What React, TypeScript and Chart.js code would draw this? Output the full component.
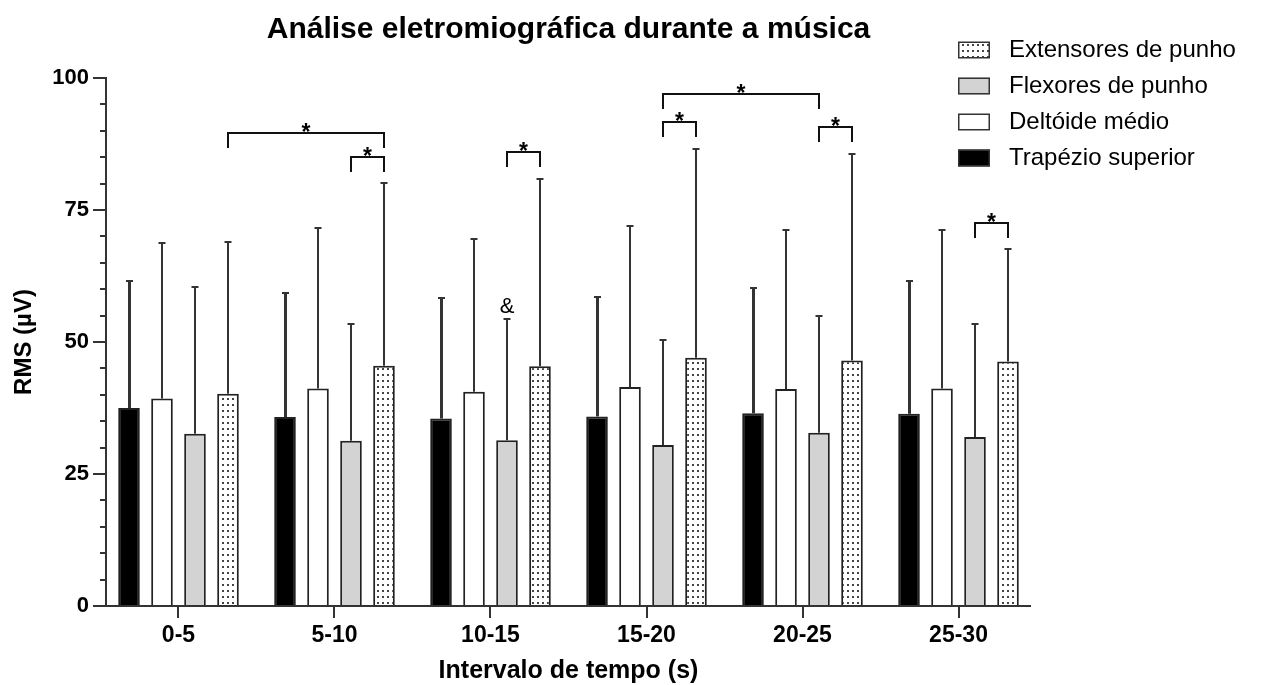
import React, { useEffect, useRef } from 'react';
import { Chart, registerables } from 'chart.js';

Chart.register(...registerables);

// ---------- data ----------
const categories = ['0-5', '5-10', '10-15', '15-20', '20-25', '25-30'];
const seriesNames = ['Trapézio superior', 'Deltóide médio', 'Flexores de punho', 'Extensores de punho'];

const trapezioMean = [37.5, 35.8, 35.5, 35.9, 36.5, 36.4];
const trapezioSD = [24.1, 23.5, 22.9, 22.7, 23.7, 25.1];
const deltoideMean = [39.3, 41.2, 40.6, 41.5, 41.1, 41.2];
const deltoideSD = [29.5, 30.4, 28.9, 30.5, 30.1, 30.0];
const flexoresMean = [32.6, 31.3, 31.4, 30.5, 32.8, 32.0];
const flexoresSD = [27.8, 22.1, 23.0, 19.9, 22.1, 21.4];
const extensoresMean = [40.2, 45.5, 45.4, 47.0, 46.5, 46.3];
const extensoresSD = [28.8, 34.7, 35.5, 39.6, 39.2, 21.3];

const yMajorTicks = [0, 25, 50, 75, 100];
const yMinorTicks = [5, 10, 15, 20, 30, 35, 40, 45, 55, 60, 65, 70, 80, 85, 90, 95];

// significance brackets: [category index, series index]
const bracketFrom = [[0, 3], [1, 2], [2, 2], [3, 2], [3, 2], [4, 2], [5, 2]];
const bracketTo = [[1, 3], [1, 3], [2, 3], [3, 3], [4, 2], [4, 3], [5, 3]];
const bracketLevel = [89.6, 85.1, 86.0, 91.7, 97.0, 90.8, 72.6];
const bracketLabel = ['*', '*', '*', '*', '*', '*', '*'];

const markCategory = [2];
const markSeries = [2];
const markValue = [55.5];
const markText = ['&'];

const FONT = "'Liberation Sans', Arial, Helvetica, sans-serif";

function makeDotPattern(): CanvasPattern | string {
  const c = document.createElement('canvas');
  c.width = 5;
  c.height = 6;
  const g = c.getContext('2d');
  if (!g) return '#fff';
  g.fillStyle = '#ffffff';
  g.fillRect(0, 0, 5, 6);
  g.fillStyle = '#444444';
  g.fillRect(2, 2, 2, 2);
  const p = g.createPattern(c, 'repeat');
  return p || '#fff';
}

const decorPlugin = {
  id: 'prismDecor',
  afterDatasetsDraw(chart: any) {
    const { ctx, chartArea, scales } = chart;
    const xs = scales.x;
    const ys = scales.y;
    const sds = [trapezioSD, deltoideSD, flexoresSD, extensoresSD];
    ctx.save();

    // error bars (upper only)
    sds.forEach((sd, di) => {
      const meta = chart.getDatasetMeta(di);
      const ds = chart.data.datasets[di].data;
      meta.data.forEach((bar: any, i: number) => {
        const v = ds[i].y;
        const y0 = ys.getPixelForValue(v);
        const y1 = ys.getPixelForValue(v + sd[i]);
        const lw = di === 0 ? 3 : 2;
        const bx = Math.round(bar.x) + (lw % 2 ? 0.5 : 0);
        ctx.strokeStyle = '#333';
        ctx.lineWidth = lw;
        ctx.beginPath();
        ctx.moveTo(bx, y0);
        ctx.lineTo(bx, y1);
        ctx.stroke();
        ctx.lineWidth = 2;
        ctx.beginPath();
        ctx.moveTo(bx - 3.5, Math.round(y1));
        ctx.lineTo(bx + 3.5, Math.round(y1));
        ctx.stroke();
      });
    });

    // axes
    ctx.strokeStyle = '#333';
    ctx.lineWidth = 2;
    const L = chartArea.left;
    const B = chartArea.bottom;
    ctx.beginPath();
    ctx.moveTo(L, chartArea.top - 1);
    ctx.lineTo(L, B);
    ctx.moveTo(L - 12, B);
    ctx.lineTo(chartArea.right, B);
    ctx.stroke();
    yMajorTicks.forEach((t) => {
      const py = Math.round(ys.getPixelForValue(t));
      ctx.beginPath();
      ctx.moveTo(L - 13, py);
      ctx.lineTo(L, py);
      ctx.stroke();
    });
    yMinorTicks.forEach((t) => {
      const py = Math.round(ys.getPixelForValue(t));
      ctx.beginPath();
      ctx.moveTo(L - 6, py);
      ctx.lineTo(L, py);
      ctx.stroke();
    });
    categories.forEach((_, i) => {
      const px = Math.round(xs.getPixelForValue(i));
      ctx.beginPath();
      ctx.moveTo(px, B);
      ctx.lineTo(px, B + 12);
      ctx.stroke();
    });

    // significance brackets
    bracketFrom.forEach((f, k) => {
      const t = bracketTo[k];
      const xa = Math.round(chart.getDatasetMeta(f[1]).data[f[0]].x);
      const xb = Math.round(chart.getDatasetMeta(t[1]).data[t[0]].x);
      const yl = Math.round(ys.getPixelForValue(bracketLevel[k]));
      ctx.strokeStyle = '#111';
      ctx.lineWidth = 2;
      ctx.beginPath();
      ctx.moveTo(xa, yl + 15);
      ctx.lineTo(xa, yl);
      ctx.lineTo(xb, yl);
      ctx.lineTo(xb, yl + 15);
      ctx.stroke();
      ctx.fillStyle = '#000';
      ctx.font = `bold 23px ${FONT}`;
      ctx.textAlign = 'center';
      ctx.textBaseline = 'alphabetic';
      ctx.fillText(bracketLabel[k], (xa + xb) / 2, yl - 7 + 13.5);
    });

    // other marks
    markText.forEach((txt, k) => {
      const bar = chart.getDatasetMeta(markSeries[k]).data[markCategory[k]];
      ctx.fillStyle = '#000';
      ctx.font = `22px ${FONT}`;
      ctx.textAlign = 'center';
      ctx.textBaseline = 'alphabetic';
      ctx.fillText(txt, bar.x, ys.getPixelForValue(markValue[k]));
    });

    // legend (reversed order)
    const lx = 958;
    const ly0 = 50;
    const step = 36;
    const order = [3, 2, 1, 0];
    order.forEach((di, r) => {
      const ds = chart.data.datasets[di];
      const cy = ly0 + r * step;
      ctx.fillStyle = ds.backgroundColor;
      ctx.fillRect(lx, cy - 8.5, 32, 17);
      ctx.strokeStyle = '#333';
      ctx.lineWidth = 1.5;
      ctx.strokeRect(lx + 0.75, cy - 8.5 + 0.75, 30.5, 15.5);
      ctx.fillStyle = '#000';
      ctx.font = `24px ${FONT}`;
      ctx.textAlign = 'left';
      ctx.textBaseline = 'middle';
      ctx.fillText(ds.label, 1009, cy);
    });

    ctx.restore();
  },
};

export default function App() {
  const ref = useRef<HTMLCanvasElement>(null);

  useEffect(() => {
    const canvas = ref.current;
    if (!canvas) return;
    Chart.defaults.font.family = FONT;
    Chart.defaults.color = '#000';
    const dots = makeDotPattern();
    const means = [trapezioMean, deltoideMean, flexoresMean, extensoresMean];
    const fills: any[] = ['#000000', '#ffffff', '#d3d3d3', dots];

    const chart = new Chart(canvas, {
      type: 'bar',
      data: {
        datasets: means.map((m, di) => ({
          label: seriesNames[di],
          data: m.map((v, i) => ({ x: i, y: v })),
          backgroundColor: fills[di],
          borderColor: '#222',
          borderWidth: 2,
          categoryPercentage: 0.846,
          barPercentage: 0.655,
        })),
      },
      options: {
        responsive: false,
        animation: false,
        layout: { padding: { left: 0, right: 232, top: 0, bottom: 0 } },
        plugins: {
          legend: { display: false },
          tooltip: { enabled: false },
          title: {
            display: true,
            text: 'Análise eletromiográfica durante a música',
            fullSize: false,
            color: '#000',
            font: { size: 30, weight: 'bold', family: FONT },
            padding: { top: 12, bottom: 30 },
          },
        },
        scales: {
          x: {
            type: 'linear',
            min: -0.4647,
            max: 5.4647,
            offset: false,
            grid: { display: false, drawTicks: false },
            border: { display: false },
            afterBuildTicks: (s: any) => {
              s.ticks = categories.map((_, i) => ({ value: i }));
            },
            afterFit: (s: any) => {
              s.height = 79;
            },
            ticks: {
              autoSkip: false,
              maxRotation: 0,
              padding: 16,
              color: '#000',
              font: { size: 23, weight: 'bold', family: FONT },
              callback: (v: any) => categories[v as number] ?? '',
            },
            title: {
              display: true,
              text: 'Intervalo de tempo (s)',
              color: '#000',
              font: { size: 25, weight: 'bold', family: FONT },
              padding: { top: 0, bottom: -1 },
            },
          },
          y: {
            type: 'linear',
            min: 0,
            max: 100,
            grid: { display: false, drawTicks: false },
            border: { display: false },
            afterBuildTicks: (s: any) => {
              s.ticks = yMajorTicks.map((v) => ({ value: v }));
            },
            afterFit: (s: any) => {
              s.width = 106;
            },
            ticks: {
              padding: 17,
              color: '#000',
              font: { size: 22, weight: 'bold', family: FONT },
            },
            title: {
              display: true,
              text: 'RMS (µV)',
              color: '#000',
              font: { size: 24, weight: 'bold', family: FONT },
              padding: { top: 10, bottom: 0 },
            },
          },
        },
      } as any,
      plugins: [decorPlugin],
    });

    return () => chart.destroy();
  }, []);

  return (
    <div style={{ position: 'absolute', left: 0, top: 0, width: 1263, height: 685, background: '#fff' }}>
      <canvas ref={ref} width={1263} height={685} style={{ display: 'block', width: 1263, height: 685 }} />
    </div>
  );
}
